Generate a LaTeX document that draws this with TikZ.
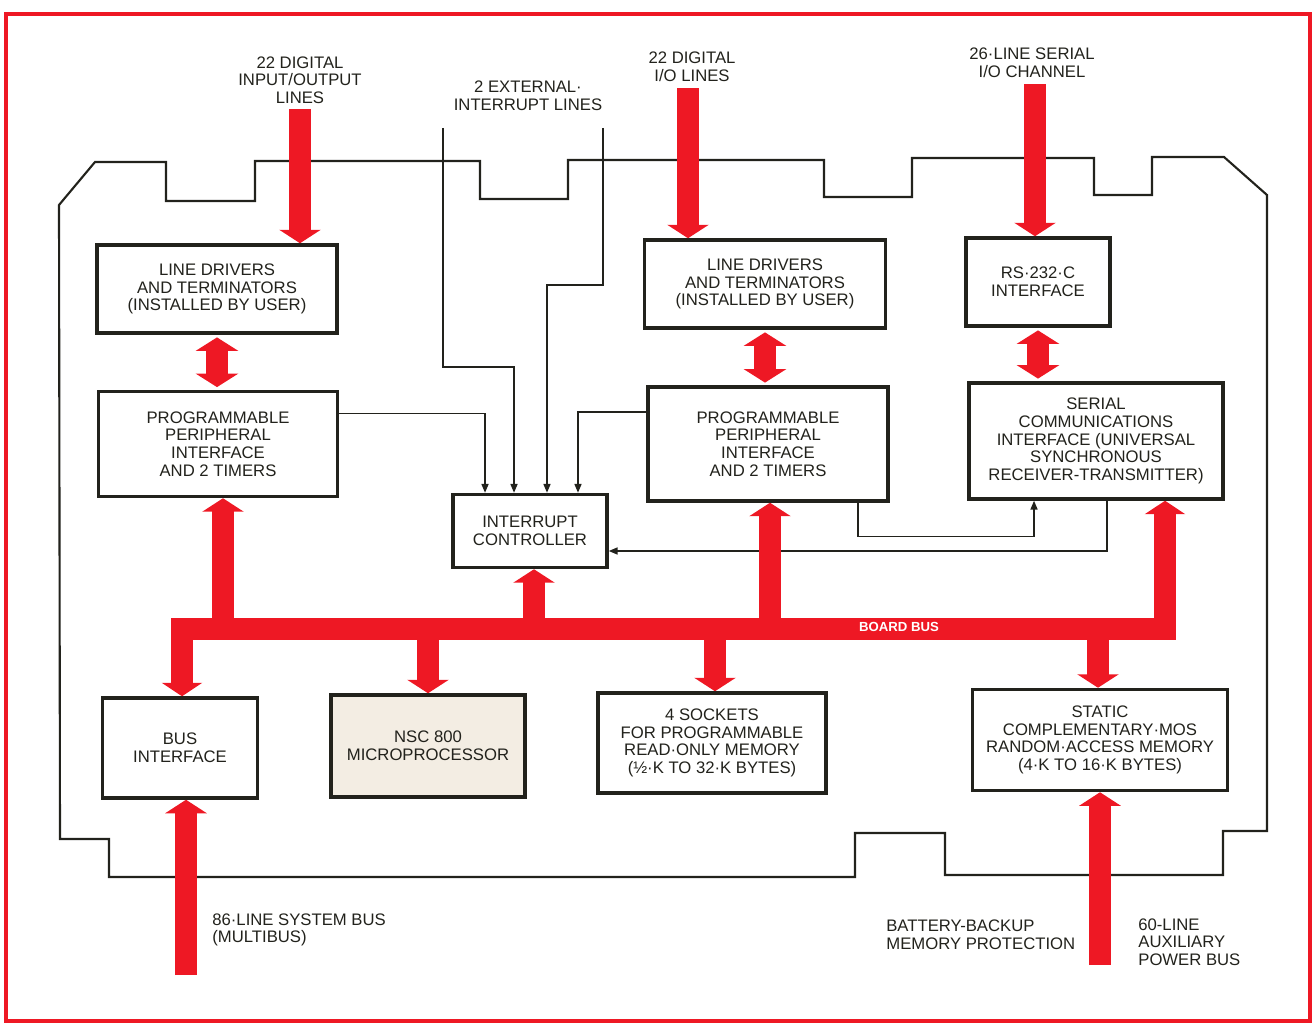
\documentclass[tikz,border=0pt]{standalone}
\usepackage{fontspec}
\setmainfont{Liberation Sans}
\usepackage{xcolor}
\usepackage{tikz}
\usetikzlibrary{arrows.meta}

\definecolor{busred}{RGB}{238,24,36}
\definecolor{ink}{RGB}{34,34,28}
\definecolor{chipfill}{RGB}{243,237,227}

\begin{document}
\begin{tikzpicture}[x=0.02cm, y=-0.02cm,
  blk/.style={draw=ink, line width=2pt, fill=white, align=center, inner sep=0pt,
    text=ink, font=\fontsize{9.5}{10}\selectfont},
  lbl/.style={align=center, inner sep=0pt, text=ink, font=\fontsize{9.5}{10}\selectfont},
  sig/.style={draw=ink, line width=0.8pt, -{Triangle[length=5pt,width=4pt]}},
  bus/.style={draw=busred, line width=13pt, line join=miter},
  busarrow/.style={bus, -{Triangle[length=0.27cm,width=0.82cm]}},
  busboth/.style={bus, {Triangle[length=0.27cm,width=0.84cm]}-{Triangle[length=0.27cm,width=0.84cm]},
    shorten <=1.5pt, shorten >=1.5pt}]
  \useasboundingbox (0,0) rectangle (1314,1023);
  % red frame round the figure
  \draw[busred, line width=2.2pt] (6,14) rectangle (1310,1021);
  % board outline
  \draw[ink, line width=1.2pt] (59,205) -- (95,162) -- (166,162) -- (166,201) -- (255,201)
    -- (255,161) -- (480,161) -- (480,199) -- (568,199) -- (568,160) -- (824,160)
    -- (824,197) -- (912,197) -- (912,158) -- (1094,158) -- (1094,195) -- (1152,195)
    -- (1152,157) -- (1224,157) -- (1267,195) -- (1267,831) -- (1223,831) -- (1223,875)
    -- (945,875) -- (945,833) -- (855,833) -- (855,877) -- (109,877) -- (109,839)
    -- (60,839) -- cycle;

  % blocks
  \node[blk, minimum width=4.8cm, minimum height=1.76cm] (drv1) at (217,289)
    {LINE DRIVERS\\AND TERMINATORS\\(INSTALLED BY USER)};
  \node[blk, minimum width=4.78cm, minimum height=2.1cm] (ppi1) at (218,444)
    {PROGRAMMABLE\\PERIPHERAL\\INTERFACE\\AND 2 TIMERS};
  \node[blk, minimum width=4.82cm, minimum height=1.76cm] (drv2) at (765,284)
    {LINE DRIVERS\\AND TERMINATORS\\(INSTALLED BY USER)};
  \node[blk, minimum width=2.88cm, minimum height=1.76cm] (rs232) at (1038,282)
    {RS·232·C\\INTERFACE};
  \node[blk, minimum width=4.8cm, minimum height=2.28cm] (ppi2) at (768,444)
    {PROGRAMMABLE\\PERIPHERAL\\INTERFACE\\AND 2 TIMERS};
  \node[blk, minimum width=5.08cm, minimum height=2.32cm] (sci) at (1096,441)
    {SERIAL\\COMMUNICATIONS\\INTERFACE (UNIVERSAL\\SYNCHRONOUS\\RECEIVER-TRANSMITTER)};
  \node[blk, minimum width=3.08cm, minimum height=1.46cm] (ic) at (530,531)
    {INTERRUPT\\CONTROLLER};
  \node[blk, minimum width=3.1cm, minimum height=2cm] (bi) at (180,748)
    {BUS\\INTERFACE};
  \node[blk, fill=chipfill, minimum width=3.88cm, minimum height=2.04cm] (cpu) at (428,746)
    {NSC 800\\MICROPROCESSOR};
  \node[blk, minimum width=4.56cm, minimum height=2cm] (prom) at (712,743)
    {4 SOCKETS\\FOR PROGRAMMABLE\\READ·ONLY MEMORY\\(½·K TO 32·K BYTES)};
  \node[blk, minimum width=5.1cm, minimum height=2.02cm] (sram) at (1100,740)
    {STATIC\\COMPLEMENTARY·MOS\\RANDOM·ACCESS MEMORY\\(4·K TO 16·K BYTES)};

  % outside labels
  \node[lbl] (io1) at (300,80) {22 DIGITAL\\INPUT/OUTPUT\\LINES};
  \node[lbl] (extint) at (528,96) {2 EXTERNAL·\\INTERRUPT LINES};
  \node[lbl] (io2) at (692,67) {22 DIGITAL\\I/O LINES};
  \node[lbl] (ser) at (1032,63) {26·LINE SERIAL\\I/O CHANNEL};
  \node[lbl, anchor=west, align=left] (sysbus) at (212,930) {86·LINE SYSTEM BUS\\(MULTIBUS)};
  \node[lbl, anchor=west, align=left] (batt) at (886,935) {BATTERY-BACKUP\\MEMORY PROTECTION};
  \node[lbl, anchor=west, align=left] (aux) at (1138,942) {60-LINE\\AUXILIARY\\POWER BUS};

  % interrupt wiring
  \coordinate (ext1) at (443,128);
  \coordinate (ext2) at (603,128);
  \draw[sig] ([yshift=0.61cm]ppi1.east) -| ([xshift=-0.9cm]ic.north);
  \draw[sig] (ext1) -- (443,367) -| ([xshift=-0.32cm]ic.north);
  \draw[sig] (ext2) -- (603,285) -| ([xshift=0.34cm]ic.north);
  \draw[sig] ([yshift=0.64cm]ppi2.west) -| ([xshift=0.96cm]ic.north);
  \draw[sig] ([xshift=1.8cm]ppi2.south) -- ++(0,34) -| ([xshift=-1.24cm]sci.south);
  \draw[sig] ([xshift=0.22cm]sci.south) |- ([yshift=-0.4cm]ic.east);

  % lines coming in from the top
  \coordinate (in1) at ([yshift=-0.1cm]io1.south);
  \coordinate (in2) at ([shift={(-0.08cm,-0.12cm)}]io2.south);
  \coordinate (in3) at ([shift={(0.06cm,-0.12cm)}]ser.south);
  \draw[busarrow] (in1) -- (in1 |- drv1.north);
  \draw[busarrow] (in2) -- (in2 |- drv2.north);
  \draw[busarrow] (in3) -- (in3 |- rs232.north);
  \draw[busboth] (drv1.south) -- (drv1.south |- ppi1.north);
  \draw[busboth] (drv2.south) -- (drv2.south |- ppi2.north);
  \draw[busboth] (rs232.south) -- (rs232.south |- sci.north);

  % board bus and its taps
  \coordinate (busl) at (182,629);
  \coordinate (busr) at (1165,629);
  \draw[bus, {Triangle[length=0.27cm,width=0.8cm]}-{Triangle[length=0.27cm,width=0.8cm]}]
    (busr |- sci.south) -- (busr) -- (busl) -- (busl |- bi.north);
  \coordinate (tapppi1) at (223,629);
  \coordinate (tapic) at (534,629);
  \coordinate (tapppi2) at (770,629);
  \coordinate (tapcpu) at (428,629);
  \coordinate (tapprom) at (715,629);
  \coordinate (tapram) at (1098,629);
  \draw[busarrow] (tapppi1) -- (tapppi1 |- ppi1.south);
  \draw[busarrow] (tapic) -- (tapic |- ic.south);
  \draw[busarrow] (tapppi2) -- (tapppi2 |- ppi2.south);
  \draw[busarrow] (tapcpu) -- (tapcpu |- cpu.north);
  \draw[busarrow] (tapprom) -- (tapprom |- prom.north);
  \draw[busarrow] (tapram) -- (tapram |- sram.north);
  \node[text=white, inner sep=0pt, font=\bfseries\fontsize{7.5}{8}\selectfont] (bbus) at (899,627) {BOARD BUS};

  % system and power buses from below
  \coordinate (mbus) at (186,975);
  \coordinate (pbus) at (1100,965);
  \draw[busarrow] (mbus) -- (mbus |- bi.south);
  \draw[busarrow] (pbus) -- (pbus |- sram.south);
\end{tikzpicture}
\end{document}
